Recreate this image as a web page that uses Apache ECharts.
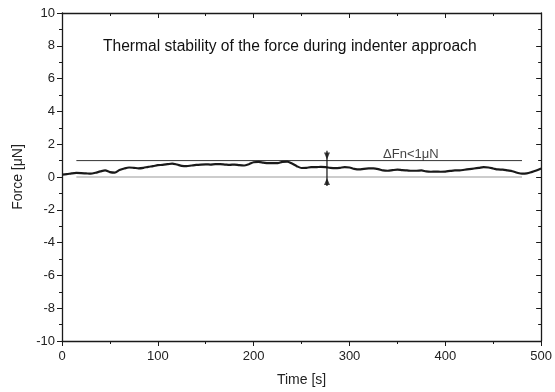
<!DOCTYPE html>
<html><head><meta charset="utf-8">
<script src="https://cdn.jsdelivr.net/npm/echarts@6/dist/echarts.min.js"></script>
<style>html,body{margin:0;padding:0;background:#fff}#c{width:555px;height:392px}</style>
</head><body><div id="c"></div>
<script>
// Time [s]
const timeValues = [0,5,10,15,20,25,30,35,40,45,50,55,60,65,70,75,80,85,90,95,100,105,110,115,120,125,130,135,140,145,150,155,160,165,170,175,180,185,190,195,200,205,210,215,220,225,230,235,240,245,250,255,260,265,270,275,280,285,290,295,300,305,310,315,320,325,330,335,340,345,350,355,360,365,370,375,380,385,390,395,400,405,410,415,420,425,430,435,440,445,450,455,460,465,470,475,480,485,490,495,500];
// Force [µN]
const forceValues = [0.15,0.17,0.22,0.25,0.24,0.22,0.2,0.26,0.34,0.4,0.3,0.27,0.42,0.52,0.58,0.56,0.53,0.56,0.62,0.66,0.72,0.74,0.78,0.82,0.76,0.68,0.66,0.7,0.74,0.76,0.77,0.76,0.78,0.78,0.76,0.74,0.76,0.72,0.7,0.78,0.9,0.92,0.88,0.84,0.84,0.85,0.92,0.94,0.82,0.66,0.55,0.56,0.6,0.6,0.62,0.6,0.56,0.54,0.56,0.6,0.58,0.5,0.46,0.5,0.52,0.52,0.48,0.4,0.38,0.42,0.45,0.42,0.4,0.38,0.38,0.4,0.34,0.32,0.33,0.32,0.33,0.37,0.4,0.4,0.44,0.48,0.52,0.56,0.6,0.58,0.52,0.46,0.45,0.4,0.35,0.26,0.2,0.22,0.3,0.4,0.52];
// reference band lines
const bandX = [15, 480];
const bandUpper = 1;
const bandLower = 0;
// delta arrow
const arrowTime = 276.5;
const arrowStick = [1.6, -0.55];
const arrowHeads = [1.28, -0.28];
const annotation = {x: 335, y: 1.4, text: 'ΔFn<1μN'};
const xTicks = {min: 0, max: 500, interval: 100};
const yTicks = {min: -10, max: 10, interval: 2};
const titleText = 'Thermal stability of the force during indenter approach';

const font = 'Liberation Sans, Arial, sans-serif';
const axisColor = '#1a1a1a';
const chart = echarts.init(document.getElementById('c'), null, {renderer: 'canvas'});

function xAxisCfg(pos, showLabel, inside) {
  return {type: 'value', position: pos, min: xTicks.min, max: xTicks.max, interval: xTicks.interval,
    axisLine: {show: true, onZero: false, lineStyle: {color: axisColor, width: 1.3}},
    axisTick: {show: true, inside: inside, length: 5, lineStyle: {color: axisColor, width: 1}},
    minorTick: {show: true, splitNumber: 2, length: 3, lineStyle: {color: axisColor, width: 1}},
    axisLabel: {show: showLabel, color: '#222', fontSize: 13, fontFamily: font, margin: 9},
    splitLine: {show: false},
    name: showLabel ? 'Time [s]' : '', nameLocation: 'middle', nameGap: 32,
    nameTextStyle: {color: '#222', fontSize: 14, fontFamily: font}};
}
function yAxisCfg(pos, showLabel, inside) {
  return {type: 'value', position: pos, min: yTicks.min, max: yTicks.max, interval: yTicks.interval,
    axisLine: {show: true, onZero: false, lineStyle: {color: axisColor, width: 1.3}},
    axisTick: {show: true, inside: inside, length: 5, lineStyle: {color: axisColor, width: 1}},
    minorTick: {show: true, splitNumber: 2, length: 3, lineStyle: {color: axisColor, width: 1}},
    axisLabel: {show: showLabel, color: '#222', fontSize: 13, fontFamily: font, margin: 7},
    splitLine: {show: false},
    name: showLabel ? 'Force [μN]' : '', nameLocation: 'middle', nameGap: 37, nameRotate: 90,
    nameTextStyle: {color: '#222', fontSize: 14, fontFamily: font}};
}

chart.setOption({
  animation: false,
  backgroundColor: '#fff',
  title: {text: titleText, left: 98, top: 34,
    textStyle: {fontSize: 15.6, fontWeight: 'normal', color: '#111', fontFamily: font}},
  grid: {left: 62, right: 11, top: 13, bottom: 50, containLabel: false},
  xAxis: [xAxisCfg('bottom', true, false), xAxisCfg('top', false, true)],
  yAxis: [yAxisCfg('left', true, false), yAxisCfg('right', false, true)],
  series: [
    {type: 'line', name: 'upper', data: bandX.map(x => [x, bandUpper]), symbol: 'none',
      lineStyle: {color: '#333', width: 1}, silent: true},
    {type: 'line', name: 'lower', data: bandX.map(x => [x, bandLower]), symbol: 'none',
      lineStyle: {color: '#999', width: 1}, silent: true},
    {type: 'line', name: 'force', data: timeValues.map((t, i) => [t, forceValues[i]]), symbol: 'none',
      smooth: 0.3, lineStyle: {color: '#1a1a1a', width: 2.2}},
    {type: 'line', name: 'stick', data: arrowStick.map(v => [arrowTime, v]), symbol: 'none',
      lineStyle: {color: '#111', width: 1.2}},
    {type: 'scatter', name: 'heads', data: [[arrowTime, arrowHeads[0]], [arrowTime, arrowHeads[1]]],
      symbol: 'triangle', symbolSize: [6, 7],
      symbolRotate: (v, p) => p.dataIndex === 0 ? 180 : 0,
      itemStyle: {color: '#111'}},
    {type: 'scatter', name: 'annot', data: [[annotation.x, annotation.y]], symbolSize: 0,
      label: {show: true, position: 'right', distance: 0, formatter: annotation.text,
        color: '#111', fontSize: 13, fontFamily: font}}
  ]
});
</script></body></html>
